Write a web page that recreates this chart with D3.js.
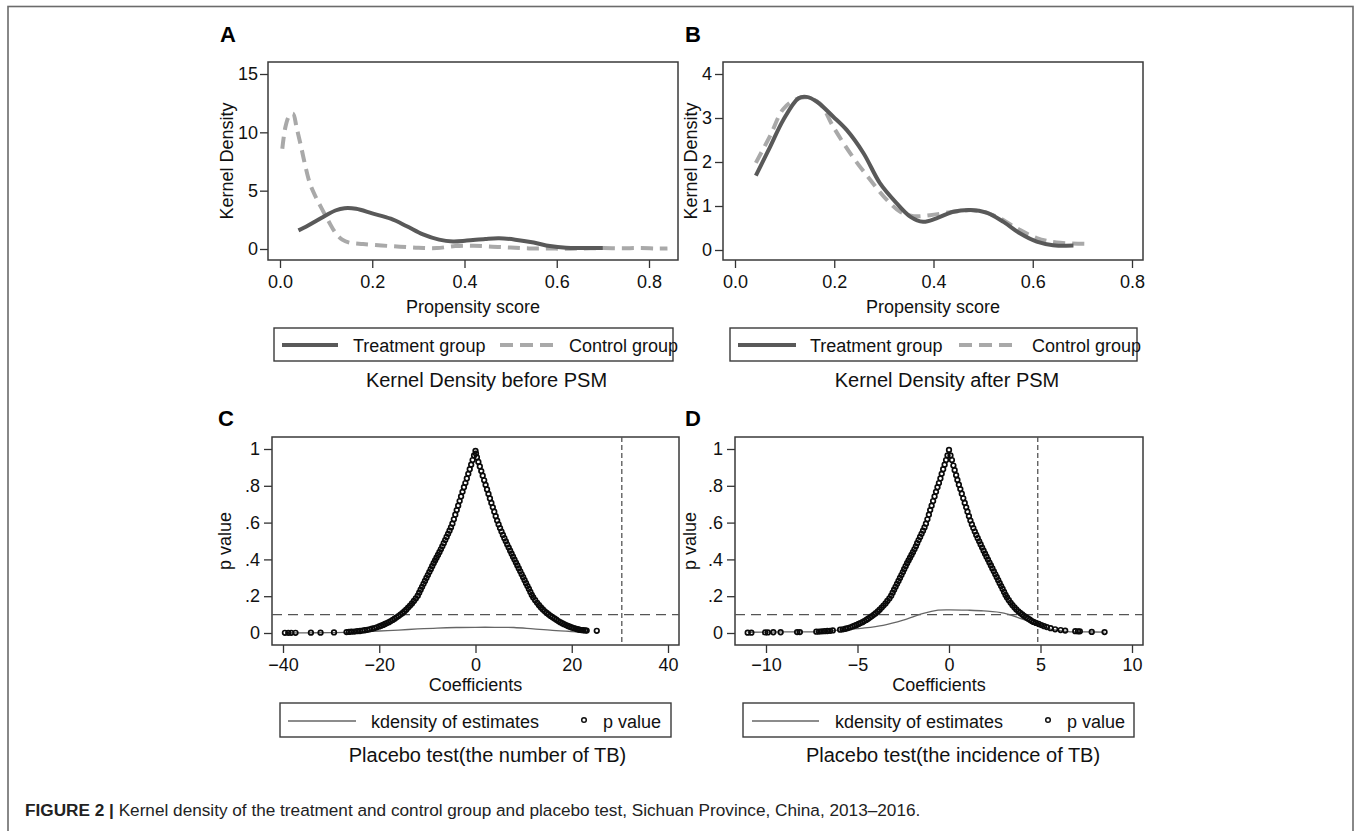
<!DOCTYPE html>
<html>
<head>
<meta charset="utf-8">
<script src="https://cdn.jsdelivr.net/npm/d3@7/dist/d3.min.js"></script>
<style>
  body { margin: 0; background: #fff; }
  text { font-family: "Liberation Sans", Arial, sans-serif; }
</style>
</head>
<body>
<svg id="fig"></svg>
<script>
// ---- data ----

// panel A: kernel density before PSM
var aTreatX = [0.040, 0.060, 0.080, 0.100, 0.120, 0.140, 0.165, 0.200, 0.240, 0.275, 0.310, 0.345, 0.375, 0.405, 0.445, 0.475, 0.510, 0.550, 0.585, 0.620, 0.660, 0.700];
var aTreatY = [1.6, 2.0, 2.45, 2.9, 3.3, 3.5, 3.45, 3.05, 2.6, 1.95, 1.25, 0.8, 0.65, 0.72, 0.86, 0.92, 0.8, 0.55, 0.25, 0.1, 0.08, 0.08];
var aCtrlX = [0.005, 0.012, 0.020, 0.028, 0.036, 0.045, 0.055, 0.065, 0.077, 0.090, 0.105, 0.120, 0.135, 0.150, 0.180, 0.220, 0.260, 0.300, 0.340, 0.380, 0.420, 0.460, 0.500, 0.540, 0.580, 0.620, 0.660, 0.700, 0.740, 0.780, 0.820, 0.840];
var aCtrlY = [8.6, 10.5, 11.4, 11.6, 10.4, 8.9, 7.1, 5.6, 4.5, 3.5, 2.4, 1.4, 0.8, 0.55, 0.42, 0.3, 0.2, 0.1, 0.08, 0.25, 0.28, 0.2, 0.12, 0.05, 0.05, 0.02, 0.05, 0.08, 0.06, 0.08, 0.04, 0.05];

// panel B: kernel density after PSM
var bTreatX = [0.042, 0.071, 0.097, 0.128, 0.144, 0.165, 0.198, 0.225, 0.259, 0.292, 0.326, 0.353, 0.379, 0.406, 0.440, 0.474, 0.507, 0.541, 0.574, 0.608, 0.641, 0.682];
var bTreatY = [1.69, 2.35, 2.95, 3.45, 3.48, 3.37, 3.03, 2.73, 2.2, 1.52, 1.06, 0.76, 0.64, 0.72, 0.87, 0.91, 0.85, 0.64, 0.38, 0.19, 0.11, 0.1];
var bCtrlX = [0.042, 0.071, 0.097, 0.124, 0.144, 0.171, 0.198, 0.232, 0.272, 0.306, 0.333, 0.360, 0.393, 0.440, 0.487, 0.527, 0.567, 0.608, 0.648, 0.709];
var bCtrlY = [1.98, 2.6, 3.2, 3.43, 3.47, 3.33, 2.8, 2.2, 1.6, 1.14, 0.87, 0.77, 0.79, 0.87, 0.9, 0.76, 0.5, 0.27, 0.17, 0.14];

// panel C: placebo test (number of TB) -- [coefficient, p value]
var cPvals = [
  [-39.6,.001],[-38.9,.001],[-38.3,.001],[-37.4,.001],[-34.2,.002],[-32.2,.002],[-29.4,.003],
  [-26.8,.005],[-26.3,.006],[-25.8,.007],[-25.2,.008],[-24.6,.010],[-24.0,.011],[-23.5,.013],[-23.0,.015],
  [-22.5,.017],[-22.0,.020],[-21.5,.023],[-21.0,.027],[-20.5,.031],[-20.0,.036],[-19.6,.040],[-19.2,.044],
  [-18.8,.049],[-18.4,.054],[-18.0,.059],[-17.6,.065],[-17.2,.071],[-16.8,.078],[-16.4,.085],[-16.0,.092],
  [-15.6,.100],[-15.2,.108],[-14.8,.117],[-14.4,.127],[-14.0,.138],[-13.6,.149],[-13.2,.161],[-12.8,.174],
  [-12.4,.188],[-12.0,.203],[-11.7,.219],[-11.4,.235],[-11.1,.251],[-10.8,.267],[-10.5,.283],[-10.2,.299],
  [-9.9,.315],[-9.6,.331],[-9.3,.347],[-9.0,.363],[-8.7,.379],[-8.4,.394],[-8.1,.409],[-7.8,.424],
  [-7.5,.439],[-7.2,.455],[-6.9,.471],[-6.6,.488],[-6.3,.505],[-6.0,.522],[-5.7,.539],[-5.4,.556],
  [-5.1,.574],[-4.8,.594],[-4.5,.618],[-4.2,.643],[-3.9,.668],[-3.6,.692],[-3.3,.717],[-3.0,.742],
  [-2.7,.767],[-2.4,.792],[-2.1,.815],[-1.8,.840],[-1.5,.865],[-1.2,.890],[-0.9,.915],[-0.6,.940],
  [-0.3,.965],[0.0,.990],
  [0.1,.975],[0.3,.955],[0.6,.930],[0.9,.905],[1.2,.880],[1.5,.855],[1.8,.830],[2.1,.805],[2.4,.780],
  [2.7,.756],[3.0,.731],[3.3,.707],[3.6,.683],[3.9,.659],[4.2,.635],[4.5,.611],[4.8,.590],[5.1,.570],
  [5.4,.551],[5.7,.533],[6.0,.515],[6.3,.498],[6.6,.481],[6.9,.464],[7.2,.447],[7.5,.431],[7.8,.415],
  [8.1,.399],[8.4,.383],[8.7,.367],[9.0,.351],[9.3,.335],[9.6,.319],[9.9,.303],[10.2,.287],[10.5,.271],
  [10.8,.255],[11.1,.239],[11.4,.223],[11.7,.207],[12.0,.193],[12.4,.178],[12.8,.164],[13.2,.151],
  [13.6,.139],[14.0,.128],[14.4,.118],[14.8,.109],[15.2,.101],[15.6,.093],[16.0,.086],[16.4,.079],
  [16.8,.072],[17.2,.065],[17.6,.059],[18.0,.053],[18.4,.048],[18.8,.043],[19.2,.038],[19.6,.034],
  [20.0,.030],[20.4,.027],[20.8,.024],[21.1,.021],[21.4,.019],[21.7,.017],[22.0,.016],[22.4,.015],
  [22.8,.014],[23.1,.013],[25.2,.012]
];
var cDensX = [-39.5, -35, -30, -27, -24, -20, -16, -12, -8, -4, 0, 4, 8, 12, 16, 20, 23.2];
var cDensY = [0.000, 0.001, 0.002, 0.003, 0.006, 0.011, 0.016, 0.022, 0.027, 0.030, 0.031, 0.031, 0.030, 0.022, 0.014, 0.008, 0.004];

// panel D: placebo test (incidence of TB) -- [coefficient, p value]
var dPvals = [
  [-11.0,.002],[-10.8,.002],[-10.05,.003],[-9.9,.003],[-9.6,.004],[-9.2,.004],[-8.3,.005],[-8.15,.005],
  [-7.25,.007],[-7.1,.008],[-6.95,.009],[-6.8,.010],[-6.65,.011],[-6.5,.012],[-6.35,.014],[-5.95,.018],
  [-5.80,.020],[-5.65,.023],[-5.52,.027],[-5.39,.031],[-5.26,.036],[-5.15,.040],[-5.05,.044],[-4.94,.049],
  [-4.84,.054],[-4.73,.059],[-4.63,.065],[-4.52,.071],[-4.42,.078],[-4.31,.085],[-4.21,.092],[-4.10,.100],
  [-4.00,.108],[-3.89,.117],[-3.79,.127],[-3.68,.138],[-3.58,.149],[-3.47,.161],[-3.37,.174],[-3.26,.188],
  [-3.16,.203],[-3.08,.219],[-3.00,.235],[-2.92,.251],[-2.84,.267],[-2.76,.283],[-2.68,.299],[-2.60,.315],
  [-2.52,.331],[-2.45,.347],[-2.37,.363],[-2.29,.379],[-2.21,.394],[-2.13,.409],[-2.05,.424],[-1.97,.439],
  [-1.89,.455],[-1.81,.471],[-1.74,.488],[-1.66,.505],[-1.58,.522],[-1.50,.539],[-1.42,.556],[-1.34,.574],
  [-1.26,.594],[-1.18,.618],[-1.10,.643],[-1.03,.668],[-0.95,.692],[-0.87,.717],[-0.79,.742],[-0.71,.767],
  [-0.63,.792],[-0.55,.815],[-0.47,.840],[-0.40,.865],[-0.32,.890],[-0.24,.915],[-0.16,.940],[-0.08,.965],
  [0.0,.995],
  [0.08,.965],[0.16,.940],[0.24,.910],[0.31,.885],[0.39,.858],[0.46,.832],[0.54,.806],[0.62,.782],
  [0.70,.757],[0.78,.732],[0.86,.707],[0.94,.683],[1.01,.659],[1.09,.635],[1.17,.611],[1.25,.590],
  [1.33,.570],[1.41,.551],[1.49,.533],[1.57,.515],[1.65,.498],[1.73,.481],[1.81,.464],[1.89,.447],
  [1.97,.431],[2.05,.415],[2.13,.399],[2.21,.383],[2.29,.367],[2.37,.351],[2.45,.335],[2.53,.319],
  [2.61,.303],[2.69,.287],[2.77,.271],[2.85,.255],[2.93,.239],[3.01,.223],[3.09,.207],[3.17,.193],
  [3.27,.178],[3.37,.164],[3.47,.151],[3.58,.139],[3.68,.128],[3.79,.118],[3.89,.109],[4.00,.101],
  [4.10,.093],[4.21,.086],[4.31,.079],[4.42,.072],[4.52,.065],[4.62,.060],[4.75,.055],[4.90,.049],
  [5.05,.043],[5.20,.037],[5.35,.032],[5.55,.026],[5.80,.020],[6.10,.016],[6.35,.013],[6.90,.010],
  [7.05,.009],[7.15,.009],[7.80,.006],[8.50,.005]
];
var dDensX = [-11, -9, -7, -5.5, -4.7, -3.6, -2.5, -1.4, -0.6, 0, 1.0, 1.9, 3.0, 4.1, 4.8, 5.7, 6.5, 7.5, 8.5];
var dDensY = [0.004, 0.006, 0.008, 0.020, 0.027, 0.042, 0.070, 0.107, 0.124, 0.126, 0.124, 0.120, 0.108, 0.072, 0.045, 0.018, 0.008, 0.006, 0.005];

// reference lines in C and D
var cRefX = 30.4, dRefX = 4.85, refP = 0.1;

// tick values
var aYTicks = [0, 5, 10, 15];
var bYTicks = [0, 1, 2, 3, 4];
var psTicks = [0, 0.2, 0.4, 0.6, 0.8];
var pTicks = [0, 0.2, 0.4, 0.6, 0.8, 1];
var cXTicks = [-40, -20, 0, 20, 40];
var dXTicks = [-10, -5, 0, 5, 10];

var caption = "Kernel density of the treatment and control group and placebo test, Sichuan Province, China, 2013\u20132016.";

// ---- drawing ----
var W = 1356, H = 831;
var FONT = "Liberation Sans, Arial, sans-serif";
var svg = d3.select("#fig").attr("width", W).attr("height", H);
svg.append("rect").attr("width", W).attr("height", H).attr("fill", "#fff");

// outer frame (open at the bottom)
svg.append("rect")
    .attr("x", 8).attr("y", 6.5)
    .attr("width", 1345).attr("height", 900)
    .attr("fill", "none").attr("stroke", "#6b6b6b").attr("stroke-width", 1.6);

function zip(a, b) { return a.map(function(v, i) { return [v, b[i]]; }); }

var pFmt = function(d) { return d === 0 ? "0" : d === 1 ? "1" : d3.format(".1f")(d).replace(/^0/, ""); };

function panel(p) {
    var x = d3.scaleLinear().domain(p.xDom).range(p.xRange);
    var y = d3.scaleLinear().domain(p.yDom).range(p.yRange);
    var g = svg.append("g");
    var bx = p.box;

    // x axis ticks below the box
    var xa = g.append("g")
        .attr("transform", "translate(0," + bx[3] + ")")
        .call(d3.axisBottom(x).tickValues(p.xTicks).tickFormat(p.xFmt).tickSize(8).tickPadding(p.xPad));
    // y axis ticks left of the box
    var ya = g.append("g")
        .attr("transform", "translate(" + bx[0] + ",0)")
        .call(d3.axisLeft(y).tickValues(p.yTicks).tickFormat(p.yFmt).tickSize(8).tickPadding(p.yPad));
    [xa, ya].forEach(function(a) {
        a.select(".domain").remove();
        a.selectAll("line").attr("stroke", "#333").attr("stroke-width", 1.3);
        a.selectAll("text").attr("font-size", 18).attr("fill", "#111").attr("font-family", FONT);
    });

    // plot region box
    g.append("rect")
        .attr("x", bx[0]).attr("y", bx[1])
        .attr("width", bx[2] - bx[0]).attr("height", bx[3] - bx[1])
        .attr("fill", "none").attr("stroke", "#3a3a3a").attr("stroke-width", 1.5);

    // axis titles
    g.append("text")
        .attr("x", (bx[0] + bx[2]) / 2).attr("y", p.xTitleY)
        .attr("text-anchor", "middle").attr("font-size", 18).attr("fill", "#111")
        .text(p.xTitle);
    g.append("text")
        .attr("transform", "translate(" + p.yTitleX + "," + (bx[1] + bx[3]) / 2 + ") rotate(-90)")
        .attr("text-anchor", "middle").attr("font-size", 18).attr("fill", "#111")
        .text(p.yTitle);

    // panel letter
    g.append("text")
        .attr("x", p.letterX).attr("y", p.letterY)
        .attr("font-size", 22).attr("font-weight", "bold").attr("fill", "#000")
        .text(p.letter);

    // legend box
    var lg = p.legend;
    g.append("rect")
        .attr("x", lg.box[0]).attr("y", lg.box[1])
        .attr("width", lg.box[2] - lg.box[0]).attr("height", lg.box[3] - lg.box[1])
        .attr("fill", "#fff").attr("stroke", "#3a3a3a").attr("stroke-width", 1.4);

    // subtitle
    g.append("text")
        .attr("x", p.subX).attr("y", p.subY)
        .attr("text-anchor", "middle").attr("font-size", 20).attr("fill", "#111")
        .text(p.subtitle);

    return { g: g, x: x, y: y };
}

function legendText(g, x, y, s) {
    g.append("text").attr("x", x).attr("y", y)
        .attr("font-size", 18).attr("fill", "#111").text(s);
}

var TREAT = "#595959", CTRL = "#a9a9a9";

function densityPanel(p, tX, tY, cX, cY, lg) {
    var P = panel(p);
    var line = d3.line()
        .x(function(d) { return P.x(d[0]); })
        .y(function(d) { return P.y(d[1]); })
        .curve(d3.curveCatmullRom.alpha(0.5));
    P.g.append("path").datum(zip(cX, cY))
        .attr("d", line).attr("fill", "none")
        .attr("stroke", CTRL).attr("stroke-width", 4).attr("stroke-dasharray", "12,7");
    P.g.append("path").datum(zip(tX, tY))
        .attr("d", line).attr("fill", "none")
        .attr("stroke", TREAT).attr("stroke-width", 4);

    // legend keys
    P.g.append("line").attr("x1", lg.s1[0]).attr("x2", lg.s1[1]).attr("y1", lg.ly).attr("y2", lg.ly)
        .attr("stroke", TREAT).attr("stroke-width", 4);
    legendText(P.g, lg.t1, lg.ty, "Treatment group");
    P.g.append("line").attr("x1", lg.s2[0]).attr("x2", lg.s2[1]).attr("y1", lg.ly).attr("y2", lg.ly)
        .attr("stroke", CTRL).attr("stroke-width", 4).attr("stroke-dasharray", "13,7");
    legendText(P.g, lg.t2, lg.ty, "Control group");
}

function placeboPanel(p, pts, dX, dY, refX, lg) {
    var P = panel(p);
    var bx = p.box;
    // reference lines
    P.g.append("line")
        .attr("x1", bx[0]).attr("x2", bx[2]).attr("y1", P.y(refP)).attr("y2", P.y(refP))
        .attr("stroke", "#555").attr("stroke-width", 1.3).attr("stroke-dasharray", "10,6");
    P.g.append("line")
        .attr("x1", P.x(refX)).attr("x2", P.x(refX)).attr("y1", bx[1]).attr("y2", bx[3])
        .attr("stroke", "#555").attr("stroke-width", 1.3).attr("stroke-dasharray", "5,3");
    // kernel density of estimates
    var line = d3.line()
        .x(function(d) { return P.x(d[0]); })
        .y(function(d) { return P.y(d[1]); })
        .curve(d3.curveCatmullRom.alpha(0.5));
    P.g.append("path").datum(zip(dX, dY))
        .attr("d", line).attr("fill", "none")
        .attr("stroke", "#666").attr("stroke-width", 1.3);
    // p values
    P.g.selectAll("circle.pv").data(pts).enter()
        .append("circle").attr("class", "pv")
        .attr("cx", function(d) { return P.x(d[0]); })
        .attr("cy", function(d) { return P.y(d[1]); })
        .attr("r", 2.3).attr("fill", "none")
        .attr("stroke", "#0a0a0a").attr("stroke-width", 1.7);

    // legend keys
    P.g.append("line").attr("x1", lg.s1[0]).attr("x2", lg.s1[1]).attr("y1", lg.ly).attr("y2", lg.ly)
        .attr("stroke", "#666").attr("stroke-width", 1.3);
    legendText(P.g, lg.t1, lg.ty, "kdensity of estimates");
    P.g.append("circle").attr("cx", lg.cx).attr("cy", lg.ly - 1).attr("r", 2.3)
        .attr("fill", "none").attr("stroke", "#111").attr("stroke-width", 1.5);
    legendText(P.g, lg.t2, lg.ty, "p value");
}

// A
densityPanel({
    xDom: [0, 0.8], xRange: [280, 649], yDom: [0, 15], yRange: [249, 74],
    box: [268, 62, 678, 260],
    xTicks: psTicks, xFmt: d3.format(".1f"), xPad: 7,
    yTicks: aYTicks, yFmt: d3.format("d"), yPad: 2,
    xTitle: "Propensity score", xTitleY: 313,
    yTitle: "Kernel Density", yTitleX: 233,
    letter: "A", letterX: 220, letterY: 42,
    legend: { box: [274, 328, 673, 361] },
    subtitle: "Kernel Density before PSM", subX: 486.5, subY: 387
}, aTreatX, aTreatY, aCtrlX, aCtrlY,
{ s1: [282, 338], t1: 353, s2: [500, 553], t2: 569, ly: 345, ty: 352 });

// B
densityPanel({
    xDom: [0, 0.8], xRange: [735, 1132], yDom: [0, 4], yRange: [250, 74],
    box: [723, 62, 1143, 260],
    xTicks: psTicks, xFmt: d3.format(".1f"), xPad: 7,
    yTicks: bYTicks, yFmt: d3.format("d"), yPad: 3,
    xTitle: "Propensity score", xTitleY: 313,
    yTitle: "Kernel Density", yTitleX: 697,
    letter: "B", letterX: 685, letterY: 42,
    legend: { box: [730, 328, 1137, 361] },
    subtitle: "Kernel Density after PSM", subX: 947, subY: 387
}, bTreatX, bTreatY, bCtrlX, bCtrlY,
{ s1: [738, 796], t1: 810, s2: [959, 1015], t2: 1032, ly: 345, ty: 352 });

// C
placeboPanel({
    xDom: [-40, 40], xRange: [283, 668], yDom: [0, 1], yRange: [633, 449],
    box: [272, 437, 679, 645],
    xTicks: cXTicks, xFmt: d3.format("d"), xPad: 5,
    yTicks: pTicks, yFmt: pFmt, yPad: 4,
    xTitle: "Coefficients", xTitleY: 691,
    yTitle: "p value", yTitleX: 231,
    letter: "C", letterX: 218, letterY: 426,
    legend: { box: [280, 703, 671, 737] },
    subtitle: "Placebo test(the number of TB)", subX: 487.5, subY: 762
}, cPvals, cDensX, cDensY, cRefX,
{ s1: [288, 356], t1: 371, cx: 584, t2: 603, ly: 721, ty: 728 });

// D
placeboPanel({
    xDom: [-10, 10], xRange: [766, 1132], yDom: [0, 1], yRange: [633, 449],
    box: [735, 437, 1143, 645],
    xTicks: dXTicks, xFmt: d3.format("d"), xPad: 5,
    yTicks: pTicks, yFmt: pFmt, yPad: 4,
    xTitle: "Coefficients", xTitleY: 691,
    yTitle: "p value", yTitleX: 696,
    letter: "D", letterX: 685, letterY: 426,
    legend: { box: [743, 703, 1134, 737] },
    subtitle: "Placebo test(the incidence of TB)", subX: 953, subY: 762
}, dPvals, dDensX, dDensY, dRefX,
{ s1: [752, 819], t1: 835, cx: 1048, t2: 1067, ly: 721, ty: 728 });

// figure caption
var cap = svg.append("text").attr("x", 25).attr("y", 815.5)
    .attr("font-size", 17.2).attr("fill", "#222");
cap.append("tspan").attr("font-weight", "bold").text("FIGURE 2 | ");
cap.append("tspan").text(caption);
</script>
</body>
</html>
